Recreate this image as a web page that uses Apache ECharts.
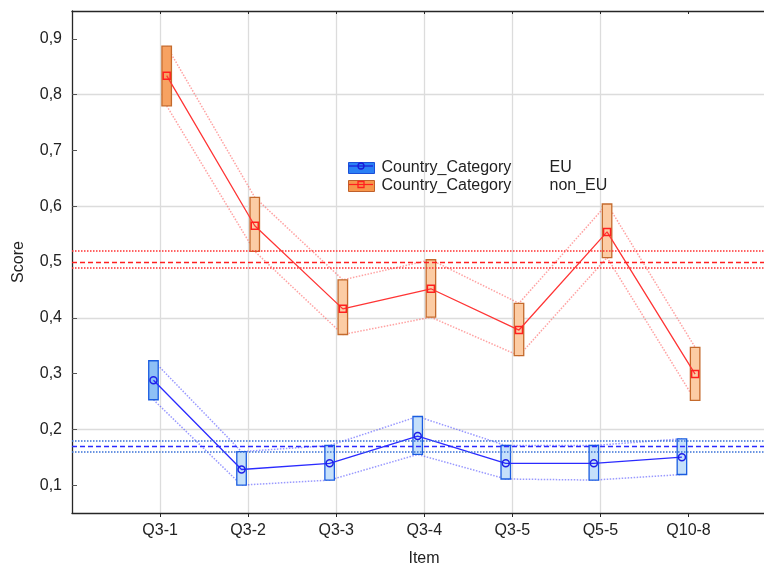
<!DOCTYPE html>
<html>
<head>
<meta charset="utf-8">
<script src="https://cdn.jsdelivr.net/npm/echarts@6/dist/echarts.min.js"></script>
<style>
html,body{margin:0;padding:0;background:#fff;}
#chart{width:764px;height:572px;}
</style>
</head>
<body>
<div id="chart"></div>
<script>
// ---- data ----
const categories = ['Q3-1', 'Q3-2', 'Q3-3', 'Q3-4', 'Q3-5', 'Q5-5', 'Q10-8'];
const groupNames = ['EU', 'non_EU'];
const legendPrefix = 'Country_Category';
const euMean  = [0.288, 0.128, 0.139, 0.188, 0.139, 0.139, 0.150];
const euUpper = [0.323, 0.160, 0.171, 0.223, 0.171, 0.171, 0.183];
const euLower = [0.253, 0.100, 0.109, 0.155, 0.111, 0.109, 0.119];
const nonEuMean  = [0.834, 0.565, 0.416, 0.452, 0.378, 0.554, 0.299];
const nonEuUpper = [0.887, 0.616, 0.468, 0.504, 0.426, 0.604, 0.347];
const nonEuLower = [0.780, 0.519, 0.370, 0.401, 0.332, 0.508, 0.252];
const euRef    = [0.158, 0.169, 0.178];   // lower, grand mean, upper
const nonEuRef = [0.487, 0.500, 0.516];
const yTicks = [0.1, 0.2, 0.3, 0.4, 0.5, 0.6, 0.7, 0.8, 0.9];
const xTicks = [1, 2, 3, 4, 5, 6, 7];

// ---- helpers ----
const OFF = 0.075;
const XMAX = 7.857;
function pts(arr, off) { return arr.map((v, i) => [i + 1 + off, v]); }
function boxes(lo, hi, off) { return lo.map((v, i) => [i + 1 + off, v, hi[i], i]); }

const FONT = "'Liberation Sans', Arial, sans-serif";
const TXT = '#222';
const FS = 16;

function boxSeries(name, lo, hi, off, fillFirst, fill, stroke) {
  return {
    name: name, type: 'custom', z: 3,
    encode: { x: 0, y: [1, 2] },
    data: boxes(lo, hi, off),
    renderItem: function (params, api) {
      const x = api.value(0);
      const a = api.coord([x, api.value(2)]);
      const b = api.coord([x, api.value(1)]);
      const w = 9.5;
      return {
        type: 'rect',
        shape: { x: a[0] - w / 2, y: a[1], width: w, height: b[1] - a[1] },
        style: { fill: api.value(3) === 0 ? fillFirst : fill, stroke: stroke, lineWidth: 1.3 }
      };
    }
  };
}
function bandLine(name, arr, off, color) {
  return {
    name: name, type: 'line', z: 2, data: pts(arr, off), symbol: 'none', silent: true,
    lineStyle: { color: color, width: 1.5, type: 'dotted' }
  };
}
function refLines(ref, dotColor, dashColor) {
  return {
    silent: true, symbol: 'none', label: { show: false },
    data: [
      { yAxis: ref[0], lineStyle: { color: dotColor, type: 'dotted', width: 1.5 } },
      { yAxis: ref[1], lineStyle: { color: dashColor, type: [5, 3], width: 1.3 } },
      { yAxis: ref[2], lineStyle: { color: dotColor, type: 'dotted', width: 1.5 } }
    ]
  };
}

const chart = echarts.init(document.getElementById('chart'));
const option = {
  animation: false,
  backgroundColor: '#fff',
  textStyle: { fontFamily: FONT },
  grid: { left: 72, right: 0, top: 11, bottom: 55 },
  legend: {
    orient: 'vertical', left: 348, top: 159, padding: 0,
    itemWidth: 26, itemHeight: 11, itemGap: 0,
    selectedMode: false,
    data: [
      { name: groupNames[0], icon: 'rect', itemStyle: { color: '#2a80f5', borderColor: '#1b4fd8', borderWidth: 1 } },
      { name: groupNames[1], icon: 'rect', itemStyle: { color: '#f7964a', borderColor: '#c0602a', borderWidth: 1 } }
    ],
    formatter: n => '{a|' + legendPrefix + '}{b|' + n + '}',
    textStyle: {
      fontFamily: FONT, fontSize: FS, color: TXT, lineHeight: 18,
      rich: {
        a: { fontFamily: FONT, fontSize: FS, color: TXT, width: 168, padding: [0, 0, 0, 2] },
        b: { fontFamily: FONT, fontSize: FS, color: TXT }
      }
    }
  },
  graphic: [
    { type: 'line', shape: { x1: 349, y1: 166, x2: 373, y2: 166 }, style: { stroke: '#1a1ad8', lineWidth: 1.2 }, z: 100 },
    { type: 'circle', shape: { cx: 361, cy: 166, r: 3 }, style: { fill: 'none', stroke: '#1a1ad8', lineWidth: 1.3 }, z: 100 },
    { type: 'line', shape: { x1: 349, y1: 184.5, x2: 373, y2: 184.5 }, style: { stroke: '#ff2020', lineWidth: 1.2 }, z: 100 },
    { type: 'rect', shape: { x: 358, y: 181.5, width: 6, height: 6 }, style: { fill: 'none', stroke: '#ff2020', lineWidth: 1.3 }, z: 100 }
  ],
  xAxis: [
    {
      type: 'value', min: 0, max: XMAX, interval: 1, position: 'bottom',
      name: 'Item', nameLocation: 'middle', nameGap: 38,
      nameTextStyle: { fontFamily: FONT, fontSize: FS, color: TXT, padding: [0, 0, 0, 12] },
      axisLine: { show: true, lineStyle: { color: '#262626', width: 1.3 } },
      axisTick: { show: true, inside: false, length: 4, customValues: xTicks, lineStyle: { color: '#262626' } },
      axisLabel: {
        fontFamily: FONT, fontSize: FS, color: TXT, margin: 10, customValues: xTicks,
        formatter: v => categories[Math.round(v) - 1] || ''
      },
      splitLine: { show: true, showMaxLine: false, lineStyle: { color: '#dcdcdc', width: 1.3 } }
    },
    {
      type: 'value', min: 0, max: XMAX, interval: 1, position: 'top',
      axisLine: { show: true, lineStyle: { color: '#262626', width: 1.3 } },
      axisTick: { show: true, inside: true, length: 3, customValues: xTicks, lineStyle: { color: '#262626' } },
      axisLabel: { show: false },
      splitLine: { show: false }
    }
  ],
  yAxis: {
    type: 'value', min: 0.05, max: 0.95, interval: 0.05,
    name: 'Score', nameLocation: 'middle', nameGap: 45,
    nameTextStyle: { fontFamily: FONT, fontSize: FS, color: TXT },
    axisLine: { show: true, lineStyle: { color: '#262626', width: 1.3 } },
    axisTick: { show: true, inside: true, length: 5, customValues: yTicks, lineStyle: { color: '#555' } },
    axisLabel: {
      fontFamily: FONT, fontSize: FS, color: TXT, margin: 10, customValues: yTicks,
      formatter: v => v.toFixed(1).replace('.', ',')
    },
    splitLine: { show: true, lineStyle: { color: ['rgba(0,0,0,0)', '#dcdcdc'], width: 1.3 } }
  },
  series: [
    bandLine('euUp', euUpper, -OFF, 'rgba(70,70,255,0.55)'),
    bandLine('euLo', euLower, -OFF, 'rgba(70,70,255,0.55)'),
    bandLine('neUp', nonEuUpper, OFF, 'rgba(255,70,70,0.5)'),
    bandLine('neLo', nonEuLower, OFF, 'rgba(255,70,70,0.5)'),
    boxSeries(groupNames[0], euLower, euUpper, -OFF, '#8ec0f5', '#c5e0fa', '#1a5ce0'),
    boxSeries(groupNames[1], nonEuLower, nonEuUpper, OFF, '#f7a262', '#fccca4', '#c46a2c'),
    {
      name: groupNames[0], type: 'line', z: 4, data: pts(euMean, -OFF),
      symbol: 'circle', symbolSize: 7,
      lineStyle: { color: '#2b2bff', width: 1.3 },
      itemStyle: { color: 'rgba(0,0,0,0)', borderColor: '#1f1fe8', borderWidth: 1.5 },
      markLine: refLines(euRef, '#3a72d8', '#2b2bff')
    },
    {
      name: groupNames[1], type: 'line', z: 4, data: pts(nonEuMean, OFF),
      symbol: 'rect', symbolSize: 7,
      lineStyle: { color: '#ff3535', width: 1.3 },
      itemStyle: { color: 'rgba(0,0,0,0)', borderColor: '#ff2020', borderWidth: 1.5 },
      markLine: refLines(nonEuRef, '#ff3030', '#ff2020')
    }
  ]
};
chart.setOption(option);
</script>
</body>
</html>
